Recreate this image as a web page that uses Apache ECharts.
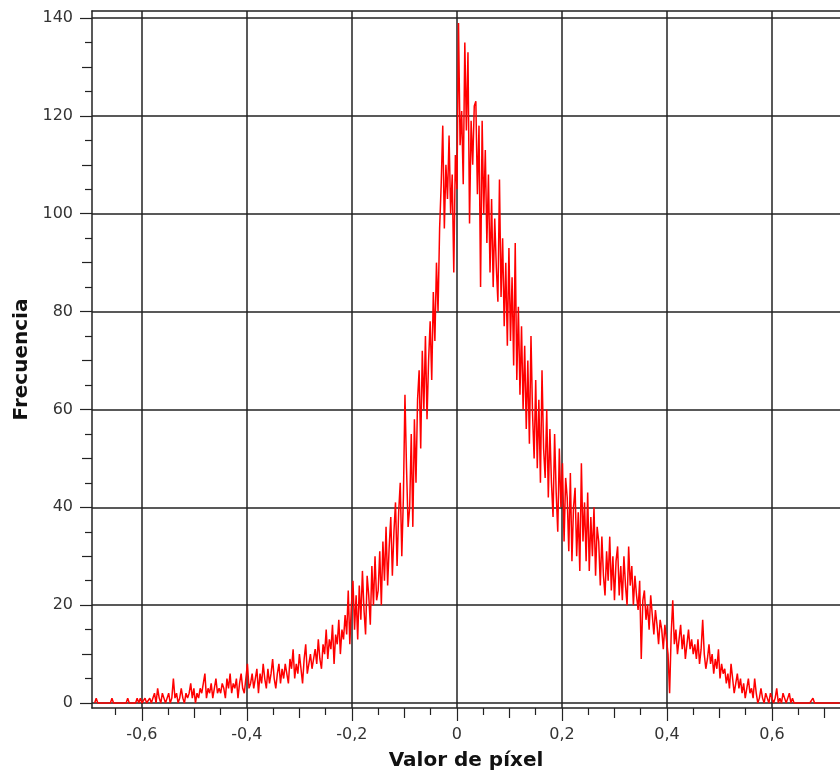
<!DOCTYPE html>
<html><head><meta charset="utf-8">
<script src="https://cdn.jsdelivr.net/npm/echarts@6/dist/echarts.min.js"></script>
<style>html,body{margin:0;padding:0;background:#fff}#c{width:840px;height:776px}</style>
</head><body><div id="c"></div>
<script>
// Histogram bins: value of bin i is at binStart + i*binWidth
const binStart = -0.69;
const binWidth = 0.003;
// counts, left to right (20 bins per row)
const counts00 = [0,1,0,0,0,0,0,0,0,0,0,1,0,0,0,0,0,0,0,0];
const counts01 = [0,1,0,0,0,0,0,1,0,1,0,0,1,0,0,1,0,0,2,0];
const counts02 = [3,1,0,2,1,0,1,2,0,1,5,1,2,0,1,3,1,0,2,1];
const counts03 = [2,4,1,3,0,2,1,3,2,4,6,1,3,2,4,1,3,5,2,3];
const counts04 = [2,4,3,1,5,3,6,2,4,3,5,1,4,6,3,2,5,8,3,4];
const counts05 = [6,3,5,7,2,6,4,8,5,3,7,4,6,9,5,3,6,8,4,7];
const counts06 = [5,8,6,4,9,7,11,5,8,6,10,7,4,9,12,6,8,10,7,9];
const counts07 = [11,8,13,9,7,12,10,15,9,13,11,16,8,14,12,17,10,15,13,18];
const counts08 = [14,23,12,20,25,15,22,13,24,17,27,19,14,26,22,16,28,20,30,21];
const counts09 = [23,31,20,33,25,36,24,32,38,26,35,41,28,39,45,30,42,63,48,36];
const counts10 = [40,55,36,58,45,62,68,52,72,60,75,58,70,78,66,84,74,90,80,97];
const counts11 = [106,118,97,110,103,116,100,108,88,112,105,139,114,121,106,135,117,133,98,119];
const counts12 = [110,122,123,104,118,85,119,100,113,94,108,88,103,85,99,89,82,107,83,95];
const counts13 = [77,90,73,93,74,87,69,94,66,81,63,77,60,73,56,70,53,75,59,50];
const counts14 = [66,48,62,45,68,52,46,60,42,56,45,38,55,43,35,52,40,49,33,46];
const counts15 = [42,31,47,29,40,44,30,39,27,49,33,41,29,43,27,38,30,40,26,36];
const counts16 = [33,24,34,26,22,31,25,34,23,30,21,29,32,22,28,21,30,24,20,32];
const counts17 = [24,28,20,26,22,19,25,9,21,23,17,20,15,22,18,14,19,16,12,17];
const counts18 = [15,11,16,13,10,2,14,21,12,15,10,13,16,11,14,9,12,15,11,13];
const counts19 = [10,12,9,13,8,11,17,10,7,9,12,8,10,6,9,7,11,5,8,6];
const counts20 = [7,4,6,3,8,5,2,4,6,3,5,2,4,1,3,5,2,3,1,5];
const counts21 = [2,0,1,3,1,0,2,1,0,2,1,0,1,3,0,1,0,2,1,0];
const counts22 = [1,2,0,1,0,0,0,0,0,0,0,0,0,0,0,0,1,0,0,0];
const counts23 = [0,0,0,0,0,0,0,0,0,0,0,0,0,0];
const counts = [].concat(counts00,counts01,counts02,counts03,counts04,counts05,counts06,
  counts07,counts08,counts09,counts10,counts11,counts12,counts13,counts14,counts15,
  counts16,counts17,counts18,counts19,counts20,counts21,counts22,counts23);

const xTickValues = [-0.6,-0.4,-0.2,0,0.2,0.4,0.6];
const xMidTicks = [-0.5,-0.3,-0.1,0.1,0.3,0.5,0.7];
const xMinorTicks = [-0.65,-0.55,-0.45,-0.35,-0.25,-0.15,-0.05,0.05,0.15,0.25,0.35,0.45,0.55,0.65];
const yTickValues = [0,20,40,60,80,100,120,140];
const yMidTicks = [10,30,50,70,90,110,130];
const yMinorTicks = [5,15,25,35,45,55,65,75,85,95,105,115,125,135];

const xMin = -0.695, xMax = 0.7295;
const yMin = -1.02, yMax = 141.43;

const points = counts.map((c, i) => [binStart + i * binWidth, c]);

const FONT = 'DejaVu Sans';
const lineCol = '#222';
const fmtX = v => String(Math.round(v * 10) / 10).replace('.', ',');

function xTickAxis(vals, len) {
  return {
    type: 'value', min: xMin, max: xMax, position: 'bottom',
    axisLine: { show: false, onZero: false },
    axisTick: { show: true, length: len, customValues: vals, lineStyle: { color: lineCol, width: 1.2 } },
    axisLabel: { show: false }, splitLine: { show: false }
  };
}
function yTickAxis(vals, len) {
  return {
    type: 'value', min: yMin, max: yMax, position: 'left',
    axisLine: { show: false, onZero: false },
    axisTick: { show: true, length: len, customValues: vals, lineStyle: { color: lineCol, width: 1.2 } },
    axisLabel: { show: false }, splitLine: { show: false }
  };
}

const chart = echarts.init(document.getElementById('c'), null, { renderer: 'canvas' });
chart.setOption({
  animation: false,
  backgroundColor: '#fff',
  grid: { left: 92, right: 0, top: 11, bottom: 66, containLabel: false },
  xAxis: [
    {
      type: 'value', min: xMin, max: xMax, position: 'bottom',
      name: 'Valor de píxel', nameLocation: 'middle', nameGap: 43,
      nameTextStyle: { fontFamily: FONT, fontWeight: 'bold', fontSize: 20, color: '#111' },
      axisLine: { show: true, onZero: false, lineStyle: { color: lineCol, width: 1.5 } },
      axisTick: { show: true, length: 13, customValues: xTickValues, lineStyle: { color: lineCol, width: 1.2 } },
      axisLabel: { show: true, customValues: xTickValues, margin: 19, formatter: fmtX,
        fontFamily: FONT, fontSize: 16, color: '#333' },
      splitLine: { show: true, lineStyle: { color: lineCol, width: 1.5 } }
    },
    xTickAxis(xMidTicks, 10),
    xTickAxis(xMinorTicks, 7),
    {
      type: 'value', min: xMin, max: xMax, position: 'top',
      axisLine: { show: true, onZero: false, lineStyle: { color: lineCol, width: 1.5 } },
      axisTick: { show: false }, axisLabel: { show: false }, splitLine: { show: false }
    }
  ],
  yAxis: [
    {
      type: 'value', min: yMin, max: yMax, position: 'left',
      name: 'Frecuencia', nameLocation: 'middle', nameGap: 58, nameRotate: 90,
      nameTextStyle: { fontFamily: FONT, fontWeight: 'bold', fontSize: 20, color: '#111' },
      axisLine: { show: true, onZero: false, lineStyle: { color: lineCol, width: 1.5 } },
      axisTick: { show: true, length: 12, customValues: yTickValues, lineStyle: { color: lineCol, width: 1.2 } },
      axisLabel: { show: true, customValues: yTickValues, margin: 19,
        fontFamily: FONT, fontSize: 16, color: '#333' },
      splitLine: { show: true, lineStyle: { color: lineCol, width: 1.5 } }
    },
    yTickAxis(yMidTicks, 10),
    yTickAxis(yMinorTicks, 7)
  ],
  series: [{
    type: 'line', xAxisIndex: 0, yAxisIndex: 0,
    data: points, showSymbol: false, symbol: 'none',
    lineStyle: { color: '#ff0000', width: 1.5 },
    clip: true
  }]
});
</script></body></html>
